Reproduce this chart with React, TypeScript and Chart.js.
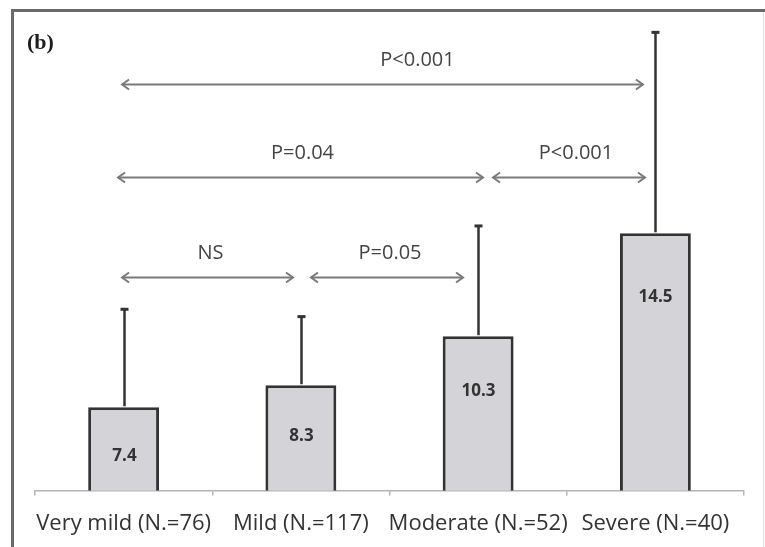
import React, { useEffect, useRef } from "react";
import { Chart, registerables } from "chart.js";

Chart.register(...registerables);

// ---- data ----
const categories = ["Very mild (N.=76)", "Mild (N.=117)", "Moderate (N.=52)", "Severe (N.=40)"];
const means = [7.4, 8.3, 10.3, 14.5];
const sds = [4.0, 2.8, 4.5, 8.2];

// pairwise comparisons
const compFrom = [0, 0, 2, 0, 1];
const compTo = [3, 2, 3, 1, 2];
const compLevel = [20.6, 16.8, 16.8, 12.7, 12.7];
const compLabels = ["P<0.001", "P=0.04", "P<0.001", "NS", "P=0.05"];

// styling offsets (pixels) for the comparison arrows
const compStartDx = [-1.6, -5.6, 14.9, -1.6, 10.1];
const compEndDx = [-12.4, 4.9, -10.4, -7.9, -15.1];
const compLabelDx = [35, 2, 7, 3, 3];

const FONT = '"Open Sans", "Noto Sans", sans-serif';

const annotPlugin = {
  id: "annot",
  beforeDraw(chart: any) {
    const ctx = chart.ctx;
    const w = chart.width;
    const h = chart.height;
    ctx.save();
    ctx.fillStyle = "#ffffff";
    ctx.fillRect(0, 0, w, h);
    ctx.fillStyle = "#6a6a6a";
    ctx.fillRect(11, 9, w - 11, 3);
    ctx.fillRect(11, 9, 3, h - 9);
    ctx.fillStyle = "#e4e4e4";
    ctx.fillRect(w - 2, 12, 1, h - 12);
    // panel label
    ctx.fillStyle = "#1e1e1e";
    ctx.font = 'bold 22px "Liberation Serif", "DejaVu Serif", serif';
    ctx.textAlign = "left";
    ctx.textBaseline = "middle";
    ctx.fillText("(b)", 27, 43);
    ctx.restore();
  },
  afterDatasetsDraw(chart: any) {
    const ctx = chart.ctx;
    const x = chart.scales.x;
    const y = chart.scales.y;
    const base = y.getPixelForValue(y.min);
    ctx.save();
    // error bars + value labels
    means.forEach((m, i) => {
      const cx = Math.round(x.getPixelForValue(i)) + 0.5;
      const top = y.getPixelForValue(m);
      const up = y.getPixelForValue(m + sds[i]);
      ctx.strokeStyle = "#333333";
      ctx.lineWidth = 2.5;
      ctx.beginPath();
      ctx.moveTo(cx, top - 1);
      ctx.lineTo(cx, up);
      ctx.stroke();
      ctx.lineWidth = 3;
      ctx.beginPath();
      ctx.moveTo(cx - 4, up);
      ctx.lineTo(cx + 4, up);
      ctx.stroke();
      const hgt = base - top;
      ctx.fillStyle = "#333333";
      ctx.font = "bold 17px " + FONT;
      ctx.textAlign = "center";
      ctx.textBaseline = "middle";
      ctx.fillText(m.toFixed(1), cx, top + 42 + 0.085 * hgt);
    });
    // comparison arrows
    compLabels.forEach((lab, k) => {
      const x1 = x.getPixelForValue(compFrom[k]) + compStartDx[k];
      const x2 = x.getPixelForValue(compTo[k]) + compEndDx[k];
      const yy = Math.round(y.getPixelForValue(compLevel[k])) + 0.5;
      ctx.strokeStyle = "#7a7a7a";
      ctx.lineWidth = 2;
      ctx.lineJoin = "miter";
      ctx.beginPath();
      ctx.moveTo(x1, yy);
      ctx.lineTo(x2, yy);
      ctx.stroke();
      ctx.beginPath();
      ctx.moveTo(x1 + 7, yy - 5);
      ctx.lineTo(x1, yy);
      ctx.lineTo(x1 + 7, yy + 5);
      ctx.stroke();
      ctx.beginPath();
      ctx.moveTo(x2 - 7, yy - 5);
      ctx.lineTo(x2, yy);
      ctx.lineTo(x2 - 7, yy + 5);
      ctx.stroke();
      ctx.fillStyle = "#444444";
      ctx.font = "20px " + FONT;
      ctx.textAlign = "center";
      ctx.textBaseline = "middle";
      ctx.fillText(lab, (x1 + x2) / 2 + compLabelDx[k], yy - 24);
    });
    ctx.restore();
  },
};

export default function App() {
  const ref = useRef<HTMLCanvasElement | null>(null);
  useEffect(() => {
    if (!ref.current) return;
    const chart = new Chart(ref.current, {
      type: "bar",
      data: {
        labels: categories,
        datasets: [
          {
            data: means,
            backgroundColor: "#d3d3d8",
            borderColor: "#333333",
            borderWidth: 3,
            categoryPercentage: 1,
            barPercentage: 0.4,
          },
        ],
      },
      options: {
        responsive: false,
        animation: false,
        layout: { padding: { left: 35, right: 21, top: 25, bottom: -5 } },
        plugins: { legend: { display: false }, tooltip: { enabled: false } },
        scales: {
          x: {
            offset: true,
            grid: {
              display: true,
              drawOnChartArea: false,
              tickLength: 5,
              color: "#b4b4b4",
              lineWidth: 1.5,
            },
            border: { color: "#b4b4b4", width: 1.5 },
            ticks: {
              font: { family: FONT, size: 22 },
              color: "#333333",
              padding: 15,
              maxRotation: 0,
              autoSkip: false,
            },
          },
          y: { display: false, min: 4, max: 23 },
        },
      },
      plugins: [annotPlugin],
    });
    return () => chart.destroy();
  }, []);
  return (
    <div style={{ position: "fixed", left: 0, top: 0, width: 765, height: 547, background: "#fff" }}>
      <canvas ref={ref} width={765} height={547} style={{ display: "block" }} />
    </div>
  );
}
